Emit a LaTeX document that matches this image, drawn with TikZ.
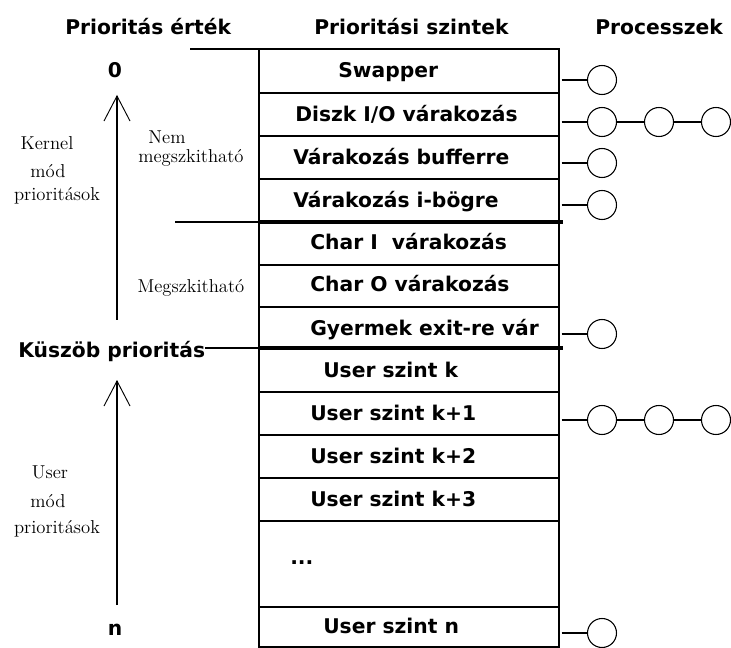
\documentclass[tikz,border=0pt]{standalone}
\usepackage{fontspec}
\newfontfamily\lblfont{DejaVu Sans}
\usetikzlibrary{arrows.meta}

\begin{document}
\begin{tikzpicture}[x=0.75pt,y=-0.75pt,
  rowbox/.style={draw, line width=1pt, minimum width=225pt, inner sep=0pt, outer sep=0pt, anchor=north west},
  lvl/.style={font=\lblfont\bfseries\fontsize{15.2}{18}\selectfont, inner sep=0pt, anchor=base west},
  numlbl/.style={font=\lblfont\bfseries\fontsize{15.2}{18}\selectfont, inner sep=0pt, anchor=base},
  note/.style={font=\fontsize{14}{16}\selectfont, inner sep=0pt, anchor=base},
  proc/.style={draw, circle, minimum size=21.75pt, inner sep=0pt, line width=0.8pt},
  link/.style={line width=0.9pt},
  sep/.style={line width=3pt},
  rise/.style={line width=1pt, -{Straight Barb[length=18.75pt,width=19.5pt,line width=0.7pt]}}
]
\useasboundingbox (0,0) rectangle (731,648);

% headers
\node[lvl] (h1) at (65,35) {Prioritás érték};
\node[lvl] (h2) at (314,35) {Prioritási szintek};
\node[lvl] (h3) at (595,35) {Processzek};

% priority levels table
\node[rowbox, minimum height=33pt]    (r1)  at (259,49)  {};
\node[rowbox, minimum height=32.25pt] (r2)  at (259,93)  {};
\node[rowbox, minimum height=32.25pt] (r3)  at (259,136) {};
\node[rowbox, minimum height=32.25pt] (r4)  at (259,179) {};
\node[rowbox, minimum height=32.25pt] (r5)  at (259,222) {};
\node[rowbox, minimum height=31.5pt]  (r6)  at (259,265) {};
\node[rowbox, minimum height=30.75pt] (r7)  at (259,307) {};
\node[rowbox, minimum height=33pt]    (r8)  at (259,348) {};
\node[rowbox, minimum height=32.25pt] (r9)  at (259,392) {};
\node[rowbox, minimum height=32.25pt] (r10) at (259,435) {};
\node[rowbox, minimum height=32.25pt] (r11) at (259,478) {};
\node[rowbox, minimum height=64.5pt]  (r12) at (259,521) {};
\node[rowbox, minimum height=30pt]    (r13) at (259,607) {};

% level names
\node[lvl] (l1)  at (338,78)  {Swapper};
\node[lvl] (l2)  at (295,122) {Diszk I/O várakozás};
\node[lvl] (l3)  at (293,165) {Várakozás bufferre};
\node[lvl] (l4)  at (293,208) {Várakozás i-bögre};
\node[lvl] (l5)  at (310,250) {Char I\ \ várakozás};
\node[lvl] (l6)  at (310,292) {Char O várakozás};
\node[lvl] (l7)  at (310,335) {Gyermek exit-re vár};
\node[lvl] (l8)  at (323,377) {User szint k};
\node[lvl] (l9)  at (310,420) {User szint k+1};
\node[lvl] (l10) at (310,463) {User szint k+2};
\node[lvl] (l11) at (310,506) {User szint k+3};
\node[lvl] (l12) at (290,564) {...};
\node[lvl] (l13) at (323,633) {User szint n};

% thick borders between the groups
\draw[sep] (r4.south west) -- ([xshift=3pt]r4.south east);
\draw[sep] (r7.south west) -- ([xshift=3pt]r7.south east);

% priority values on the left
\node[numlbl] (v0) at (115,78) {0};
\node[numlbl] (vn) at (115,635) {n};
\node[lvl] (kuszob) at (18,357) {Küszöb prioritás};

\coordinate (t0) at (190,49);
\coordinate (t1) at (175,222);
\draw[link] (t0) -- (r1.north west);
\draw[link] (t1) -- (r4.south west);
\draw[link] (kuszob.east |- r7.south west) -- (r7.south west);

% direction of rising priority
\coordinate (a1s) at (117,320);
\coordinate (a1t) at (117,95);
\coordinate (a2s) at (117,605);
\coordinate (a2t) at (117,380);
\draw[rise] (a1s) -- (a1t);
\draw[rise] (a2s) -- (a2t);

% side notes
\node[note] (k1) at (47,150) {Kernel};
\node[note] (k2) at (48,178) {mód};
\node[note] (k3) at (57,201) {prioritások};
\node[note] (m1) at (167,144) {Nem};
\node[note] (m2) at (191,163) {megszkitható};
\node[note] (m3) at (191,293) {Megszkitható};
\node[note] (u1) at (50,478) {User};
\node[note] (u2) at (48,507) {mód};
\node[note] (u3) at (57,533) {prioritások};

% waiting processes
\node[proc] (c1)  at (602,80)  {};
\node[proc] (c2a) at (602,122) {};
\node[proc] (c2b) at (659,122) {};
\node[proc] (c2c) at (716,122) {};
\node[proc] (c3)  at (602,163) {};
\node[proc] (c4)  at (602,205) {};
\node[proc] (c7)  at (602,334) {};
\node[proc] (c9a) at (602,420) {};
\node[proc] (c9b) at (659,420) {};
\node[proc] (c9c) at (716,420) {};
\node[proc] (c13) at (602,633) {};

\draw[link] ([xshift=2pt]c1.west -| r1.east) -- (c1.west);
\draw[link] ([xshift=2pt]c2a.west -| r2.east) -- (c2a.west);
\draw[link] (c2a) -- (c2b);
\draw[link] (c2b) -- (c2c);
\draw[link] ([xshift=2pt]c3.west -| r3.east) -- (c3.west);
\draw[link] ([xshift=2pt]c4.west -| r4.east) -- (c4.west);
\draw[link] ([xshift=2pt]c7.west -| r7.east) -- (c7.west);
\draw[link] ([xshift=2pt]c9a.west -| r9.east) -- (c9a.west);
\draw[link] (c9a) -- (c9b);
\draw[link] (c9b) -- (c9c);
\draw[link] ([xshift=2pt]c13.west -| r13.east) -- (c13.west);
\end{tikzpicture}
\end{document}
